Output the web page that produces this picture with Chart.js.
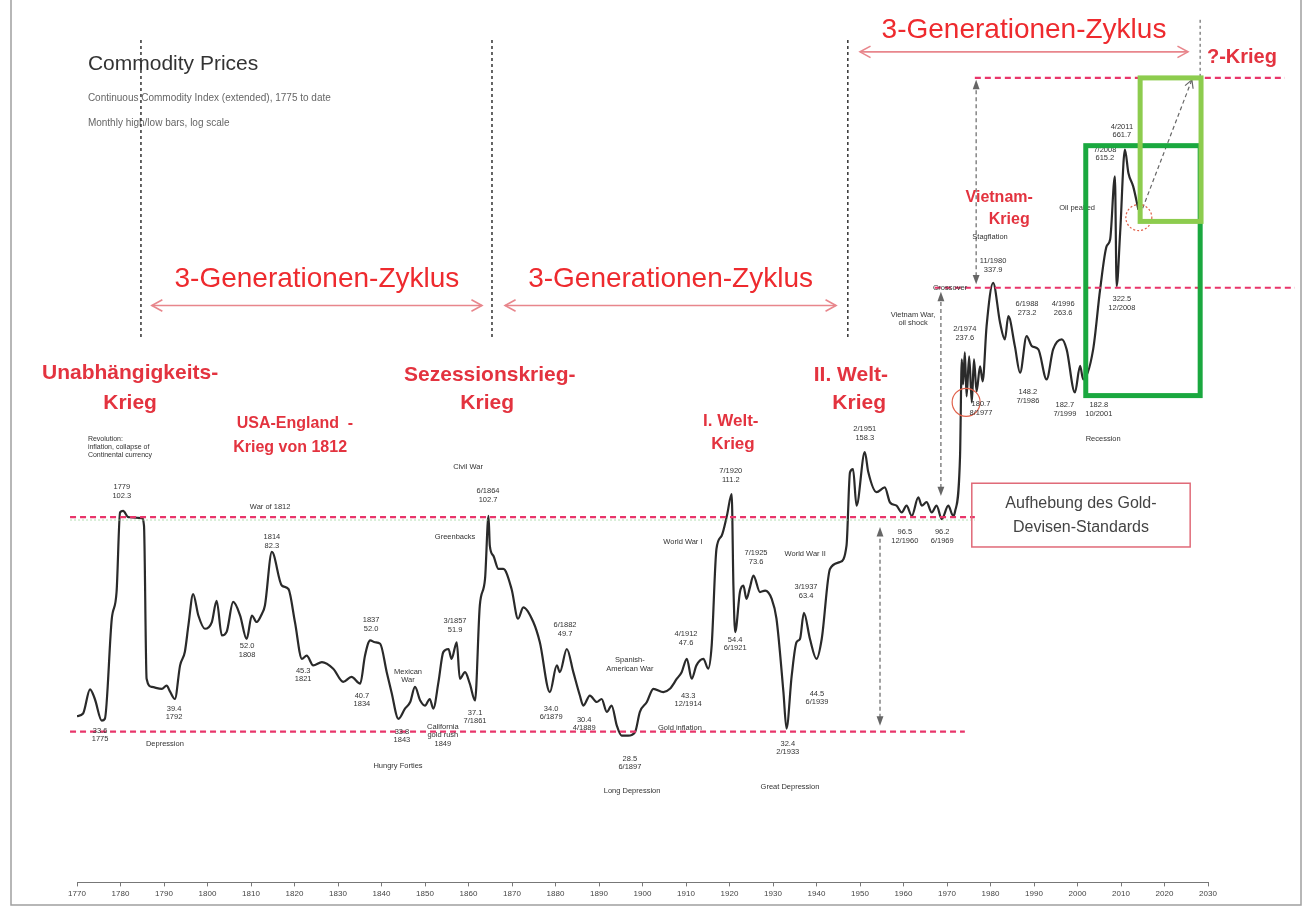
<!DOCTYPE html>
<html>
<head>
<meta charset="utf-8">
<title>Commodity Prices</title>
<script src="https://cdn.jsdelivr.net/npm/chart.js@4.4.1/dist/chart.umd.min.js"></script>
<style>
  html, body { margin: 0; padding: 0; background: #fff; }
  canvas { display: block; }
</style>
</head>
<body>
<canvas id="myChart" width="1310" height="914"></canvas>
<script>
// Continuous Commodity Index (year, index level)
const years = [1770.0,1771.4,1773.0,1774.1,1775.7,1776.4,1778.0,1779.1,1779.9,1780.6,
  1781.8,1784.9,1785.4,1786.0,1787.2,1789.5,1790.6,1791.4,1792.5,1793.7,
  1794.8,1795.6,1796.7,1797.9,1799.4,1801.0,1802.1,1803.3,1804.4,1805.9,
  1807.5,1809.0,1810.2,1811.3,1812.5,1813.2,1814.8,1817.1,1818.6,1820.1,
  1821.7,1822.8,1824.3,1826.3,1828.9,1831.2,1833.1,1835.1,1836.2,1837.4,
  1838.5,1839.7,1841.2,1842.3,1843.9,1845.4,1846.6,1847.7,1848.9,1850.0,
  1851.1,1851.9,1853.1,1854.2,1855.4,1856.1,1857.3,1858.0,1859.2,1860.3,
  1861.5,1862.6,1863.8,1864.6,1864.9,1865.7,1866.9,1868.0,1869.9,1871.4,
  1872.6,1874.9,1876.4,1878.7,1880.3,1881.0,1882.6,1884.1,1885.6,1886.4,
  1887.9,1889.5,1890.6,1891.8,1892.9,1894.1,1895.2,1896.7,1898.3,1899.4,
  1901.0,1902.5,1904.8,1906.3,1907.9,1909.0,1910.2,1911.3,1912.4,1914.0,
  1915.1,1915.9,1917.0,1918.2,1919.4,1920.5,1920.9,1921.3,1922.4,1923.2,
  1923.9,1924.7,1925.5,1927.0,1928.2,1929.7,1930.8,1932.4,1933.1,1934.3,
  1935.4,1936.2,1937.1,1938.5,1940.0,1941.2,1943.1,1945.4,1946.9,1947.7,
  1948.4,1949.2,1951.1,1951.9,1953.8,1955.7,1956.9,1958.4,1959.6,1960.7,
  1961.9,1963.4,1964.2,1965.3,1966.5,1967.6,1968.8,1970.3,1971.4,1971.8,
  1973.0,1973.4,1973.7,1974.1,1974.5,1975.1,1975.7,1976.2,1976.8,1977.6,
  1978.2,1979.1,1980.6,1982.2,1983.3,1984.1,1985.6,1986.8,1988.3,1989.5,
  1991.0,1992.9,1994.4,1996.4,1997.5,1999.4,2000.6,2001.3,2003.6,2005.2,
  2006.7,2007.5,2008.6,2009.0,2009.8,2010.9,2011.7,2012.8,2014.0];
const index = [34.8,35.3,40.1,38.1,34.0,34.3,58.2,67.1,102.0,102.9,
  99.5,99.0,95.1,42.4,40.6,40.2,40.9,39.6,38.1,45.5,
  48.9,56.1,66.3,59.2,55.2,57.2,64.0,53.3,54.3,63.6,
  59.2,52.3,59.2,57.2,59.7,62.4,82.8,69.3,68.1,57.2,
  47.1,47.9,45.5,46.3,44.7,41.7,42.8,41.3,47.9,51.9,
  51.4,51.0,43.9,39.5,34.3,36.2,37.5,40.6,37.8,36.8,
  38.1,36.2,41.7,48.8,49.6,47.1,51.4,42.4,43.9,41.3,
  37.8,62.4,71.8,100.2,85.6,81.2,75.7,75.7,68.1,58.2,
  61.8,57.2,51.4,39.5,45.5,43.9,49.6,43.9,38.8,36.8,
  38.8,37.5,38.1,35.6,36.8,33.1,31.4,31.4,32.0,35.6,
  37.5,40.2,39.5,40.2,42.4,43.9,47.1,42.4,45.5,47.1,
  44.7,50.5,84.1,90.2,100.2,112.3,69.3,54.2,67.0,69.3,
  64.6,68.7,73.1,67.0,67.5,64.6,58.2,39.5,32.6,43.1,
  51.4,52.3,60.0,52.3,47.1,52.3,75.7,78.5,85.6,126.0,
  128.2,105.7,140.2,126.2,113.5,116.4,107.5,105.7,102.0,105.7,
  100.2,110.4,105.7,107.7,102.0,105.7,98.5,105.7,100.2,102.0,
  137.5,228.8,200.6,237.5,188.3,232.4,182.4,228.8,193.3,220.6,
  203.8,272.8,342.8,277.6,254.3,287.4,245.4,213.3,258.7,245.4,
  241.2,205.9,241.2,254.3,241.2,192.1,221.0,205.9,241.2,330.9,
  415.8,430.7,601.1,336.6,446.1,692.1,612.1,570.4,504.4];
const tickYears = [1770,1780,1790,1800,1810,1820,1830,1840,1850,1860,1870,1880,1890,
  1900,1910,1920,1930,1940,1950,1960,1970,1980,1990,2000,2010,2020,2030];

const FONT = "'Liberation Sans', Arial, sans-serif";
const RED = '#e3333f';

// annotations, placed in (year, index) coordinates
const warTitles = [
  { text: 'Unabhängigkeits-', x: 1782.2, y: 213, size: 21 },
  { text: 'Krieg', x: 1782.2, y: 181.4, size: 21 },
  { text: 'USA-England  -', x: 1820.1, y: 163.3, size: 16 },
  { text: 'Krieg von 1812', x: 1819.0, y: 143.9, size: 16 },
  { text: 'Sezessionskrieg-', x: 1864.9, y: 210, size: 21 },
  { text: 'Krieg', x: 1864.3, y: 181.4, size: 21 },
  { text: 'I. Welt-', x: 1920.3, y: 165, size: 17 },
  { text: 'Krieg', x: 1920.8, y: 146.2, size: 17 },
  { text: 'II. Welt-', x: 1947.9, y: 210, size: 21 },
  { text: 'Krieg', x: 1949.8, y: 181.4, size: 21 },
  { text: 'Vietnam-', x: 1982.0, y: 537, size: 16 },
  { text: 'Krieg', x: 1984.3, y: 478, size: 16 },
  { text: '?-Krieg', x: 2037.8, y: 1124, size: 20 }
];
const cycles = [
  { from: 1787.2, to: 1863.1, y: 304, textY: 349 },
  { from: 1868.4, to: 1944.5, y: 304, textY: 349 },
  { from: 1950.0, to: 2025.4, y: 1160, textY: 1302 }
];
const eraLines = [1784.7, 1865.4, 1947.2];
const levelLines = [
  { y: 99.5, from: 1768.4, to: 1976.4 },
  { y: 32.06, from: 1768.4, to: 1974.1 },
  { y: 334, from: 1967.2, to: 2050.0 },
  { y: 1011, from: 1976.4, to: 2047.7 }
];
const spanArrows = [
  { x: 1976.7, from: 340, to: 1001 },
  { x: 1968.6, from: 111.2, to: 327 },
  { x: 1954.6, from: 33.1, to: 94.4 }
];
const notes = [
  ['1779\n102.3', 1780.3, 116.5], ['War of 1812', 1814.4, 104.9], ['1814\n82.3', 1814.8, 89.6],
  ['52.0\n1808', 1809.1, 50.4], ['39.4\n1792', 1792.3, 36.2], ['33.6\n1775', 1775.3, 32.2],
  ['Depression', 1790.2, 30.1], ['45.3\n1821', 1822.0, 44.2], ['1837\n52.0', 1837.6, 57.8],
  ['40.7\n1834', 1835.5, 38.8], ['Mexican\nWar', 1846.1, 44.0], ['33.8\n1843', 1844.7, 32.06],
  ['Hungry Forties', 1843.8, 26.7], ['California\ngold rush\n1849', 1854.1, 32.9],
  ['3/1857\n51.9', 1856.9, 57.5], ['37.1\n7/1861', 1861.5, 35.4], ['Civil War', 1859.9, 129.5],
  ['6/1864\n102.7', 1864.5, 114.1], ['Greenbacks', 1856.9, 89.6], ['34.0\n6/1879', 1879.0, 36.2],
  ['6/1882\n49.7', 1882.2, 56.3], ['30.4\n4/1889', 1886.6, 34.2], ['Spanish-\nAmerican War', 1897.1, 46.8],
  ['28.5\n6/1897', 1897.1, 27.8], ['Long Depression', 1897.6, 23.4], ['4/1912\n47.6', 1910.0, 53.7],
  ['43.3\n12/1914', 1910.5, 38.8], ['Gold inflation', 1908.6, 32.7], ['World War I', 1909.3, 87.2],
  ['7/1920\n111.2', 1920.3, 126.8], ['7/1925\n73.6', 1926.1, 82.3], ['54.4\n6/1921', 1921.3, 52.1],
  ['World War II', 1937.4, 81.9], ['3/1937\n63.4', 1937.6, 68.8], ['44.5\n6/1939', 1940.1, 39.2],
  ['32.4\n2/1933', 1933.4, 30.1], ['Great Depression', 1933.9, 24.0], ['2/1951\n158.3', 1951.1, 158.3],
  ['96.5\n12/1960', 1960.3, 92.0], ['96.2\n6/1969', 1968.9, 92.0], ['Vietnam War,\noil shock', 1962.2, 290],
  ['2/1974\n237.6', 1974.1, 268], ['180.7\n8/1977', 1977.8, 180.5], ['Stagflation', 1979.9, 437],
  ['11/1980\n337.9', 1980.6, 384], ['6/1988\n273.2', 1988.4, 305.9], ['148.2\n7/1986', 1988.6, 192.3],
  ['4/1996\n263.6', 1996.7, 305.9], ['182.7\n7/1999', 1997.1, 179.6], ['182.8\n10/2001', 2004.9, 179.6],
  ['Recession', 2005.9, 150], ['Oil peaked', 1999.9, 510], ['7/2008\n615.2', 2006.3, 692],
  ['4/2011\n661.7', 2010.2, 781], ['322.5\n12/2008', 2010.2, 314], ['Crossover', 1970.7, 334]
];

function drawText(ctx, str, x, y, font, color, align, lh) {
  ctx.font = font;
  ctx.fillStyle = color;
  ctx.textAlign = align || 'center';
  ctx.textBaseline = 'middle';
  str.split('\n').forEach((line, i) => ctx.fillText(line, x, y + i * (lh || 8.5)));
}

function chevron(ctx, x, y, ang, len) {
  ctx.beginPath();
  ctx.moveTo(x - len * Math.cos(ang - 0.5), y - len * Math.sin(ang - 0.5));
  ctx.lineTo(x, y);
  ctx.lineTo(x - len * Math.cos(ang + 0.5), y - len * Math.sin(ang + 0.5));
  ctx.stroke();
}

function triangle(ctx, x, y, ang, len) {
  ctx.beginPath();
  ctx.moveTo(x, y);
  ctx.lineTo(x - len * Math.cos(ang - 0.35), y - len * Math.sin(ang - 0.35));
  ctx.lineTo(x - len * Math.cos(ang + 0.35), y - len * Math.sin(ang + 0.35));
  ctx.closePath();
  ctx.fill();
}

const annotate = {
  id: 'annotate',
  beforeDraw(chart) {
    const ctx = chart.ctx;
    ctx.save();
    ctx.fillStyle = '#fff';
    ctx.fillRect(0, 0, chart.width, chart.height);
    // scanned page frame
    ctx.strokeStyle = '#a0a0a0';
    ctx.lineWidth = 1.5;
    ctx.beginPath();
    ctx.moveTo(11, 0); ctx.lineTo(11, 905); ctx.lineTo(1301, 905); ctx.lineTo(1301, 0);
    ctx.stroke();
    ctx.restore();
  },
  afterDatasetsDraw(chart) {
    const { ctx, scales: { x, y } } = chart;
    const X = v => x.getPixelForValue(v);
    const Y = v => y.getPixelForValue(v);
    ctx.save();

    // header
    drawText(ctx, 'Commodity Prices', X(1772.5), Y(1088), `21px ${FONT}`, '#333', 'left');
    drawText(ctx, 'Continuous Commodity Index (extended), 1775 to date', X(1772.5), Y(910), `10px ${FONT}`, '#666', 'left');
    drawText(ctx, 'Monthly high/low bars, log scale', X(1772.5), Y(794), `10px ${FONT}`, '#666', 'left');
    drawText(ctx, 'Revolution:\ninflation, collapse of\nContinental currency', X(1772.5), Y(150), `7px ${FONT}`, '#333', 'left', 8);

    // era separators
    ctx.strokeStyle = '#333';
    ctx.lineWidth = 1.5;
    ctx.setLineDash([3, 3]);
    eraLines.forEach(v => {
      ctx.beginPath(); ctx.moveTo(X(v), Y(1235)); ctx.lineTo(X(v), Y(254)); ctx.stroke();
    });
    ctx.strokeStyle = '#888';
    ctx.beginPath(); ctx.moveTo(X(2028.2), Y(1374)); ctx.lineTo(X(2028.2), Y(1001)); ctx.stroke();

    // red level lines
    ctx.strokeStyle = 'rgba(150,210,150,0.7)';
    ctx.lineWidth = 1;
    ctx.setLineDash([2, 2]);
    ctx.beginPath(); ctx.moveTo(X(1768.4), Y(98.0)); ctx.lineTo(X(1976.4), Y(98.0)); ctx.stroke();
    ctx.strokeStyle = '#e8356a';
    ctx.lineWidth = 2.2;
    ctx.setLineDash([6, 4]);
    levelLines.forEach(l => {
      ctx.beginPath(); ctx.moveTo(X(l.from), Y(l.y)); ctx.lineTo(X(l.to), Y(l.y)); ctx.stroke();
    });

    // gray span arrows
    ctx.strokeStyle = '#666';
    ctx.fillStyle = '#666';
    ctx.lineWidth = 1.2;
    spanArrows.forEach(a => {
      const px = X(a.x), y0 = Y(a.from), y1 = Y(a.to);
      ctx.setLineDash([4, 3]);
      ctx.beginPath(); ctx.moveTo(px, y0 - 8); ctx.lineTo(px, y1 + 8); ctx.stroke();
      ctx.setLineDash([]);
      triangle(ctx, px, y0, Math.PI / 2, 10);
      triangle(ctx, px, y1, -Math.PI / 2, 10);
    });
    const ax0 = X(2014.4), ay0 = Y(491), ax1 = X(2026.3), ay1 = Y(1001);
    const ang = Math.atan2(ay1 - ay0, ax1 - ax0);
    ctx.setLineDash([4, 3]);
    ctx.beginPath(); ctx.moveTo(ax0, ay0); ctx.lineTo(ax1, ay1); ctx.stroke();
    ctx.setLineDash([]);
    chevron(ctx, ax1, ay1, ang, 9);

    // circles around lows
    ctx.strokeStyle = '#e0604a';
    ctx.lineWidth = 1.2;
    ctx.beginPath(); ctx.arc(X(1974.4), Y(182.4), 14, 0, Math.PI * 2); ctx.stroke();
    ctx.setLineDash([2, 2]);
    ctx.beginPath(); ctx.arc(X(2014.1), Y(483.7), 13, 0, Math.PI * 2); ctx.stroke();
    ctx.setLineDash([]);

    // generation cycle arrows
    cycles.forEach(c => {
      const x0 = X(c.from), x1 = X(c.to), py = Y(c.y);
      ctx.strokeStyle = '#e8868c';
      ctx.lineWidth = 1.6;
      ctx.beginPath(); ctx.moveTo(x0, py); ctx.lineTo(x1, py); ctx.stroke();
      chevron(ctx, x1, py, 0, 12);
      chevron(ctx, x0, py, Math.PI, 12);
      drawText(ctx, '3-Generationen-Zyklus', (x0 + x1) / 2, Y(c.textY), `28px ${FONT}`, '#ee2a2e');
    });

    // war headings
    warTitles.forEach(t => drawText(ctx, t.text, X(t.x), Y(t.y), `bold ${t.size}px ${FONT}`, RED));

    // small notes
    notes.forEach(n => drawText(ctx, n[0], X(n[1]), Y(n[2]), `7.5px ${FONT}`, '#333'));

    // gold standard box
    ctx.strokeStyle = '#e06a78';
    ctx.lineWidth = 1.5;
    ctx.strokeRect(X(1975.7), Y(119), X(2025.9) - X(1975.7), Y(85.0) - Y(119));
    drawText(ctx, 'Aufhebung des Gold-\nDevisen-Standards', X(2000.8), Y(106.6), `16px ${FONT}`, '#444', 'center', 24);

    // highlight boxes
    ctx.lineWidth = 5;
    ctx.strokeStyle = '#1aa83f';
    ctx.strokeRect(X(2001.9), Y(707), X(2028.2) - X(2001.9), Y(189) - Y(707));
    ctx.strokeStyle = '#8dcc4e';
    ctx.strokeRect(X(2014.4), Y(1011), X(2028.4) - X(2014.4), Y(474) - Y(1011));

    ctx.restore();
  }
};

const ctx = document.getElementById('myChart').getContext('2d');
new Chart(ctx, {
  type: 'line',
  data: {
    datasets: [{
      label: 'Continuous Commodity Index',
      data: years.map((yr, i) => ({ x: yr, y: index[i] })),
      borderColor: '#2a2a2a',
      borderWidth: 2.2,
      pointRadius: 0,
      cubicInterpolationMode: 'monotone'
    }]
  },
  options: {
    responsive: false,
    animation: false,
    layout: { padding: { left: 77, right: 102, top: 40, bottom: 12 } },
    plugins: { legend: { display: false }, tooltip: { enabled: false } },
    scales: {
      x: {
        type: 'linear',
        min: 1770,
        max: 2030,
        afterBuildTicks: s => { s.ticks = tickYears.map(v => ({ value: v })); },
        ticks: { callback: v => String(v), font: { size: 8, family: FONT }, color: '#444', padding: 3, maxRotation: 0, autoSkip: false },
        grid: { drawOnChartArea: false, drawTicks: true, tickLength: 4, color: '#777' },
        border: { display: true, color: '#777', width: 1 }
      },
      y: { type: 'logarithmic', display: false, min: 14.47, max: 1235 }
    }
  },
  plugins: [annotate]
});
</script>
</body>
</html>
